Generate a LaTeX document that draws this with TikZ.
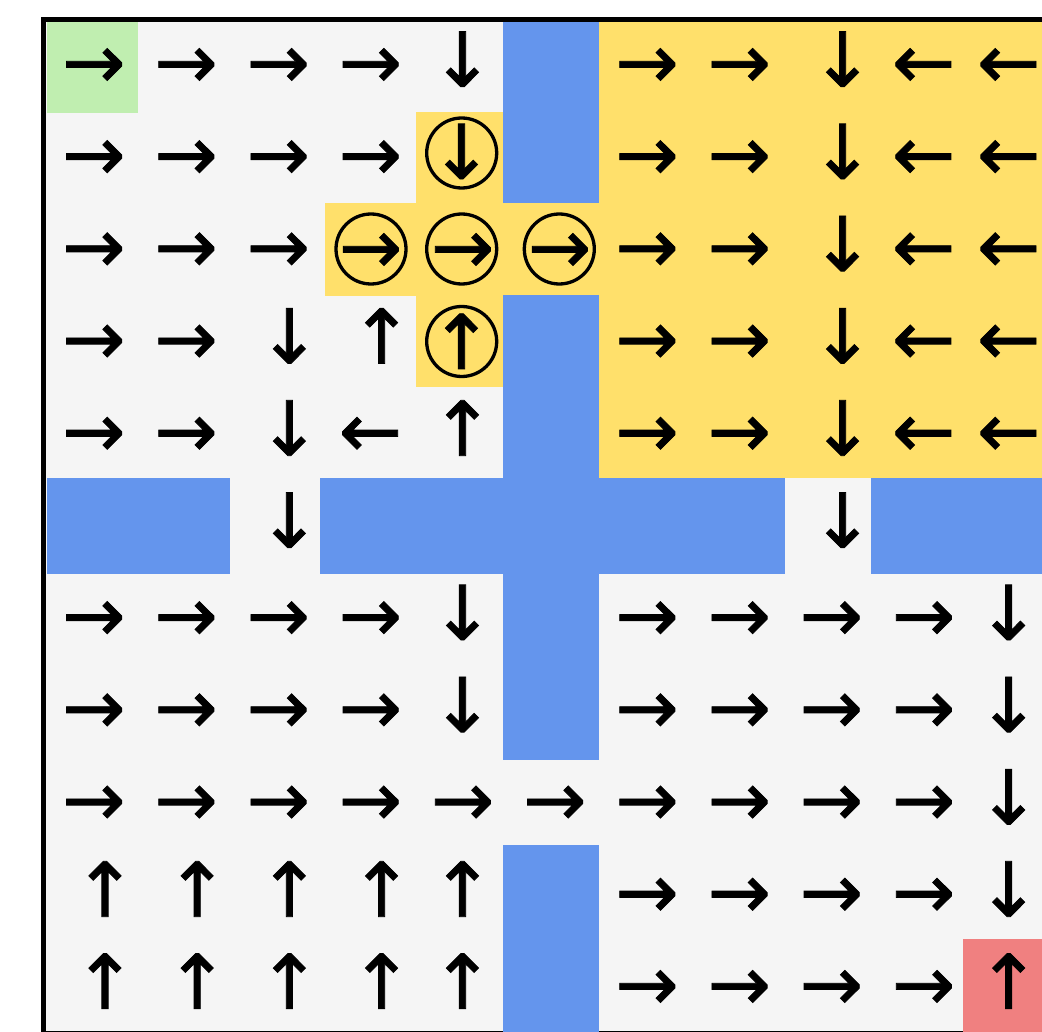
\documentclass[tikz,border=0pt]{standalone}
\usepackage{fontspec}
\newfontfamily\arrowfont[FakeBold=1]{DejaVu Sans}
\definecolor{cellgray}{HTML}{F5F5F5}
\definecolor{wallblue}{HTML}{6495ED}
\definecolor{hiyellow}{HTML}{FFE06B}
\definecolor{startgreen}{HTML}{C0EEB0}
\definecolor{goalred}{HTML}{F08080}
\tikzset{
  arr/.style={font=\arrowfont\fontsize{75.5}{75.5}\selectfont, inner sep=0pt, outer sep=0pt},
  ringline/.style={draw=black, line width=3.3pt},
}
\begin{document}
\begin{tikzpicture}[x=1pt,y=-1pt]
\useasboundingbox (0,0) rectangle (1042,1032);
% frame
\draw[line width=5.3pt] (43.5,1033) rectangle (1070,19.5);
% background cells
\fill[cellgray] (46.2,22.2) rectangle (1042,1030.5);
% start and goal
\fill[startgreen] (46.5,21.8) rectangle (137.8,113.2);
\fill[goalred] (963.2,938.8) rectangle (1042,1032);
% yellow region
\fill[hiyellow] (599,21.8) rectangle (1042,478);
\fill[hiyellow] (416,111.7) rectangle (503,203.3);
\fill[hiyellow] (325,203.3) rectangle (599,295.7);
\fill[hiyellow] (416,295.7) rectangle (503,387);
% walls
\fill[wallblue] (503,21.8) rectangle (599,203.3);
\fill[wallblue] (503,295.2) rectangle (599,478);
\fill[wallblue] (46.5,478) rectangle (230,574);
\fill[wallblue] (320,478) rectangle (785,574);
\fill[wallblue] (871,478) rectangle (1042,574);
\fill[wallblue] (503,574) rectangle (599,760);
\fill[wallblue] (503,845) rectangle (599,1032);
% horizontal arrows
\foreach \r/\c in {0/0,0/1,0/2,0/3,0/6,0/7,
  1/0,1/1,1/2,1/3,1/6,1/7,
  2/0,2/1,2/2,2/6,2/7,
  3/0,3/1,3/6,3/7,
  4/0,4/1,4/6,4/7,
  6/0,6/1,6/2,6/3,6/6,6/7,6/8,6/9,
  7/0,7/1,7/2,7/3,7/6,7/7,7/8,7/9,
  8/0,8/1,8/2,8/3,8/4,8/5,8/6,8/7,8/8,8/9,
  9/6,9/7,9/8,9/9,
  10/6,10/7,10/8,10/9}{
  \pgfmathsetmacro\xx{\c==10 ? 1008.7 : 93.8+92.2*\c}
  \pgfmathsetmacro\yy{68.2+92.2*\r}
  \node[arr] (a-\r-\c) at (\xx,\yy) {→};
}
\foreach \r/\c in {0/9,0/10,1/9,1/10,2/9,2/10,3/9,3/10,4/3,4/9,4/10}{
  \pgfmathsetmacro\xx{\c==10 ? 1008.7 : 93.8+92.2*\c}
  \pgfmathsetmacro\yy{68.2+92.2*\r}
  \node[arr] (a-\r-\c) at (\xx,\yy) {←};
}
% vertical arrows
\foreach \r/\c in {0/4,0/8,1/8,2/8,3/2,3/8,4/2,4/8,5/2,5/8,
  6/4,6/10,7/4,7/10,8/10,9/10}{
  \pgfmathsetmacro\xx{\c==10 ? 1008.7 : (\c==4 ? 462.5 : 105+92.2*\c)}
  \pgfmathsetmacro\yy{59.2+92.2*\r}
  \node[arr] (a-\r-\c) at (\xx,\yy) {↓};
}
\foreach \r/\c in {3/3,4/4,9/0,9/1,9/2,9/3,9/4,10/0,10/1,10/2,10/3,10/4,10/10}{
  \pgfmathsetmacro\xx{\c==10 ? 1008.7 : (\c==4 ? 462.5 : 105+92.2*\c)}
  \pgfmathsetmacro\yy{59.2+92.2*\r}
  \node[arr] (a-\r-\c) at (\xx,\yy) {↑};
}
% circled arrows
\node[arr] (a-1-4) at (461.5,151.4) {↓};
\node[arr] (a-2-3) at (370.5,253.2) {→};
\node[arr] (a-2-4) at (462.6,253.2) {→};
\node[arr] (a-2-5) at (559.5,253.2) {→};
\node[arr] (a-3-4) at (461.5,341.3) {↑};
\draw[ringline] ([xshift=0.2pt,yshift=-1.6pt]a-1-4.center) circle[radius=35];
\draw[ringline] ([xshift=0.5pt,yshift=4.2pt]a-2-3.center) circle[radius=35];
\draw[ringline] ([xshift=-0.9pt,yshift=4.2pt]a-2-4.center) circle[radius=35];
\draw[ringline] ([xshift=-0.2pt,yshift=4.2pt]a-2-5.center) circle[radius=35];
\draw[ringline] ([xshift=0.2pt,yshift=-0.2pt]a-3-4.center) circle[radius=35];
\end{tikzpicture}
\end{document}
